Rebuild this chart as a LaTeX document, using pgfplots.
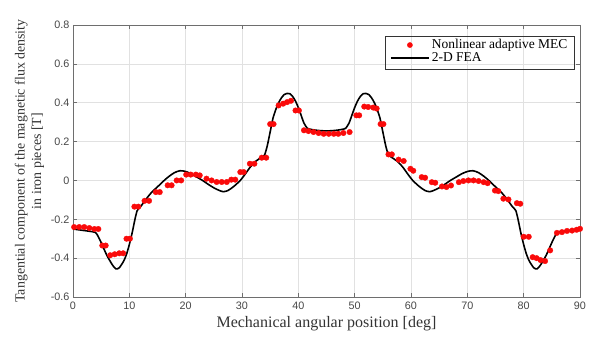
\documentclass[border=0pt]{standalone}
\usepackage{fontspec}
\setmainfont{Liberation Serif}
\newfontfamily\ticksans{Liberation Sans}
\usepackage{pgfplots}
\pgfplotsset{compat=1.18}
\definecolor{gridc}{RGB}{225,225,225}
\definecolor{axc}{RGB}{110,110,110}
\definecolor{tickc}{RGB}{70,70,70}
\definecolor{mecred}{RGB}{250,10,10}
\begin{document}
\begin{tikzpicture}
\begin{axis}[
  scale only axis,
  width=507pt, height=272pt,
  xmin=0, xmax=90, ymin=-0.6, ymax=0.8,
  xtick={0,10,...,90},
  ytick={-0.6,-0.4,-0.2,0,0.2,0.4,0.6,0.8},
  yticklabel style={/pgf/number format/fixed,/pgf/number format/precision=1},
  /pgf/number format/assume math mode=true,
  tick label style={font=\ticksans\fontsize{10.8}{12}\selectfont, text=tickc},
  xticklabel style={yshift=-1pt},
  tick align=inside,
  major tick length=4pt,
  tick style={axc, line width=0.6pt},
  axis line style={axc, line width=0.8pt},
  grid=major,
  major grid style={gridc, line width=0.6pt},
  xlabel={Mechanical angular position [deg]},
  xlabel style={font=\fontsize{16}{18}\selectfont, text=black!80, at={(axis description cs:0.5,0)}, anchor=center, yshift=-27pt},
  ylabel={Tangential component of the magnetic flux density\\in iron pieces [T]},
  ylabel style={font=\fontsize{13.9}{16.5}\selectfont, text=black!80, align=center, at={(axis description cs:-0.086,0.5)}, anchor=center},
  legend style={at={(axis description cs:0.623,0.958)}, anchor=north west, draw=none, fill=none, font=\fontsize{13.5}{15.5}\selectfont, row sep=-1.5pt, inner sep=1pt},
  legend cell align=left,
]
\addplot[only marks, mark=*, mark size=2.8pt, mecred, mark options={draw=mecred, fill=mecred, line width=0.3pt},
  legend image code/.code={\fill[mecred] (19pt,0pt) circle[radius=2.6pt]; \path[draw=none] (0pt,0pt) -- (38pt,0pt);}] coordinates {
(0.2,-0.24) (1.1,-0.24) (2.0,-0.24) (2.9,-0.245) (3.8,-0.25) (4.5,-0.25)
(5.2,-0.335) (5.8,-0.335) (6.6,-0.385) (7.4,-0.38) (8.2,-0.375) (8.9,-0.375)
(9.5,-0.30) (10.1,-0.30) (10.9,-0.135) (11.6,-0.135) (12.7,-0.105) (13.5,-0.105)
(14.7,-0.06) (15.4,-0.06) (16.8,-0.025) (17.5,-0.025) (18.4,0.0) (19.2,0.0)
(20.1,0.03) (20.9,0.03) (21.8,0.03) (22.5,0.026) (23.7,0.009) (24.6,0.0)
(25.5,-0.008) (26.4,-0.008) (27.3,-0.008) (28.1,0.004) (28.8,0.004)
(29.7,0.043) (30.3,0.043) (31.4,0.086) (32.2,0.086) (33.5,0.117) (34.3,0.117)
(35.0,0.29) (35.6,0.29) (36.5,0.386) (37.3,0.395) (38.0,0.403) (38.7,0.41)
(39.5,0.36) (40.1,0.36) (41.0,0.258) (41.8,0.254) (42.7,0.249) (43.6,0.244) (44.5,0.24)
(45.4,0.24) (46.3,0.24) (47.1,0.24) (48.0,0.244) (49.1,0.249)
(50.3,0.335) (50.8,0.335) (51.7,0.38) (52.4,0.378) (53.3,0.375) (53.9,0.37)
(54.6,0.29) (55.1,0.29) (56.0,0.134) (56.6,0.134) (57.8,0.107) (58.7,0.10)
(59.9,0.06) (60.4,0.05) (61.9,0.017) (62.5,0.014) (63.7,-0.009) (64.3,-0.012)
(65.5,-0.031) (66.3,-0.034) (67.1,-0.026) (68.5,-0.009) (69.3,-0.003) (70.2,0.0)
(71.1,0.0) (72.0,-0.003) (72.9,-0.009) (73.6,-0.014) (74.9,-0.052) (75.5,-0.055)
(76.4,-0.094) (77.3,-0.098) (78.8,-0.117) (79.4,-0.12) (80.0,-0.29) (80.9,-0.29)
(81.6,-0.395) (82.3,-0.40) (83.0,-0.41) (83.8,-0.415) (84.7,-0.36)
(85.9,-0.27) (86.8,-0.266) (87.7,-0.26) (88.6,-0.258) (89.4,-0.254) (90.0,-0.249)
};
\addlegendentry{Nonlinear adaptive MEC}
\addplot[black, line width=1.6pt, smooth, tension=0.4, mark=none,
  legend image code/.code={\draw[black, line width=1.7pt] (0pt,0pt) -- (38pt,0pt);}] coordinates {
(0,-0.25) (1,-0.254) (2,-0.258) (3,-0.262) (4,-0.268) (4.5,-0.29) (5,-0.32)
(6,-0.385) (7,-0.435) (7.6,-0.455) (8.2,-0.45) (9,-0.415) (9.5,-0.38) (10,-0.33)
(10.5,-0.27) (11,-0.2) (11.4,-0.155) (12,-0.135) (13,-0.095) (14,-0.06) (15,-0.033)
(16,-0.005) (17,0.02) (18,0.04) (19,0.05) (20,0.046) (21,0.034) (22,0.017) (23,0.0)
(24,-0.02) (25,-0.038) (26,-0.052) (26.7,-0.058) (27.5,-0.052) (28.5,-0.032)
(29.7,0.0) (30.5,0.03) (31.5,0.07) (32.5,0.1) (33.5,0.12) (34,0.13) (34.5,0.18)
(35,0.25) (35.5,0.32) (36,0.365) (36.5,0.4) (37,0.425) (37.5,0.442) (38,0.448)
(38.5,0.446) (39,0.432) (39.5,0.408) (40,0.375) (40.5,0.335) (41,0.295) (41.6,0.268)
(42,0.264) (43,0.259) (44,0.256) (45,0.255)
(46,0.256) (47,0.259) (48,0.264) (48.4,0.268) (49,0.295) (49.5,0.335) (50,0.375)
(50.5,0.408) (51,0.432) (51.5,0.446) (52,0.448) (52.5,0.442) (53,0.425) (53.5,0.4)
(54,0.365) (54.5,0.32) (55,0.25) (55.5,0.18) (56,0.13) (56.5,0.12) (57.5,0.1)
(58.5,0.07) (59.5,0.03) (60.3,0.0) (61.5,-0.032) (62.5,-0.052) (63.3,-0.058)
(64,-0.052) (65,-0.038) (66,-0.02) (67,0.0) (68,0.017) (69,0.034) (70,0.046)
(71,0.05) (72,0.04) (73,0.02) (74,-0.005) (75,-0.033) (76,-0.06) (77,-0.095)
(78,-0.135) (78.6,-0.155) (79,-0.2) (79.5,-0.27) (80,-0.33) (80.5,-0.38) (81,-0.415)
(81.8,-0.45) (82.4,-0.455) (83,-0.435) (84,-0.385) (85,-0.32) (85.5,-0.29)
(86,-0.268) (87,-0.262) (88,-0.258) (89,-0.254) (90,-0.25)
};
\addlegendentry{2-D FEA}
\coordinate (BL) at (rel axis cs:0,0);
\coordinate (TR) at (rel axis cs:1,1);
\end{axis}
\draw[black!80, line width=0.8pt] ([shift={(312pt,228pt)}]BL) rectangle ([shift={(501pt,261pt)}]BL);
\path ([shift={(-73pt,-42pt)}]BL) rectangle ([shift={(24pt,25pt)}]TR);
\end{tikzpicture}
\end{document}
